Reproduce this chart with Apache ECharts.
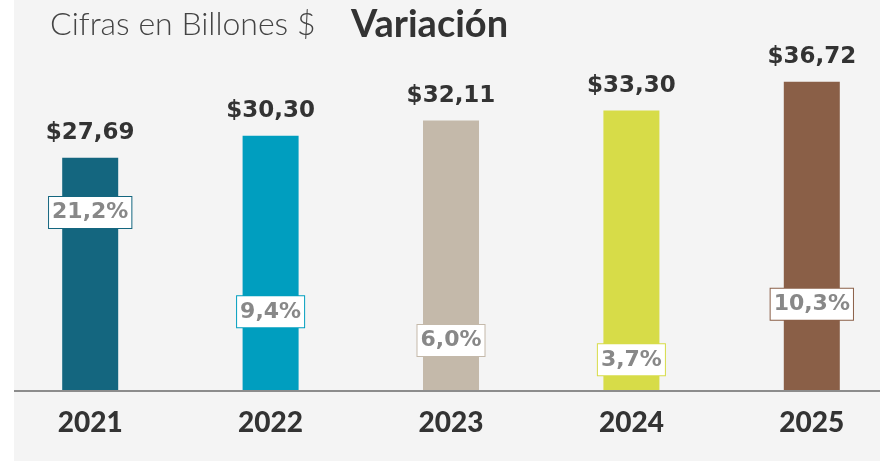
<!DOCTYPE html>
<html>
<head>
<meta charset="utf-8">
<script src="https://cdn.jsdelivr.net/npm/echarts@6/dist/echarts.min.js"></script>
<style>
  html, body { margin: 0; padding: 0; background: #fff; }
  #chart { width: 880px; height: 461px; }
</style>
</head>
<body>
<div id="chart"></div>
<script>
// datos
const years = ['2021', '2022', '2023', '2024', '2025'];
const billones = [27.69, 30.30, 32.11, 33.30, 36.72];
const variacion = [21.2, 9.4, 6.0, 3.7, 10.3];
const colores = ['#14667f', '#009ebf', '#c4b9aa', '#d7dc48', '#8a5f47'];

const fmt = function (v, dec) {
    return v.toFixed(dec).replace('.', ',');
};

const chart = echarts.init(document.getElementById('chart'));
chart.setOption({
    animation: false,
    backgroundColor: '#fff',
    textStyle: { fontFamily: 'Lato' },
    graphic: [
        { type: 'rect', z: -10, shape: { x: 14, y: 0, width: 866, height: 461 }, style: { fill: '#f4f4f4' } },
        { type: 'line', z: 5, shape: { x1: 14, y1: 391, x2: 880, y2: 391 }, style: { stroke: '#8c8c8c', lineWidth: 2 } }
    ],
    title: [
        {
            text: 'Cifras en Billones $',
            left: 45, top: 4,
            textStyle: { fontFamily: 'Lato', fontWeight: 300, fontSize: 32, color: '#444' }
        },
        {
            text: 'Variación',
            left: 346, top: 1,
            textStyle: { fontFamily: 'Lato', fontWeight: 'bold', fontSize: 38, color: '#333' }
        }
    ],
    grid: { left: 0, width: 902, top: 54, bottom: 70, outerBoundsMode: 'none', containLabel: false },
    xAxis: {
        type: 'category',
        data: years,
        axisLine: { show: false },
        axisTick: { show: false },
        axisLabel: { margin: 18, fontSize: 28, fontWeight: 900, color: '#333', fontFamily: 'Lato' }
    },
    yAxis: {
        type: 'value',
        min: 0, max: 40,
        show: false,
        splitLine: { show: false }
    },
    series: [
        {
            type: 'bar',
            barWidth: 56,
            data: billones.map(function (v, i) {
                return { value: v, itemStyle: { color: colores[i] } };
            }),
            label: {
                show: true,
                position: 'top',
                distance: 13,
                fontSize: 23,
                fontWeight: 'bold',
                color: '#333',
                fontFamily: 'DejaVu Sans',
                formatter: function (p) { return '$' + fmt(p.value, 2); }
            }
        },
        {
            type: 'scatter',
            symbolSize: 0,
            itemStyle: { color: 'rgba(0,0,0,0)', opacity: 1 },
            z: 10,
            data: variacion.map(function (v, i) {
                return {
                    value: v,
                    label: { borderColor: colores[i] }
                };
            }),
            label: {
                show: true,
                position: 'inside',
                fontSize: 22,
                fontWeight: 'bold',
                color: '#888',
                fontFamily: 'DejaVu Sans',
                backgroundColor: '#fff',
                borderWidth: 1,
                padding: [5, 3, 4, 3],
                formatter: function (p) { return fmt(p.value, 1) + '%'; }
            }
        }
    ]
});
</script>
</body>
</html>
